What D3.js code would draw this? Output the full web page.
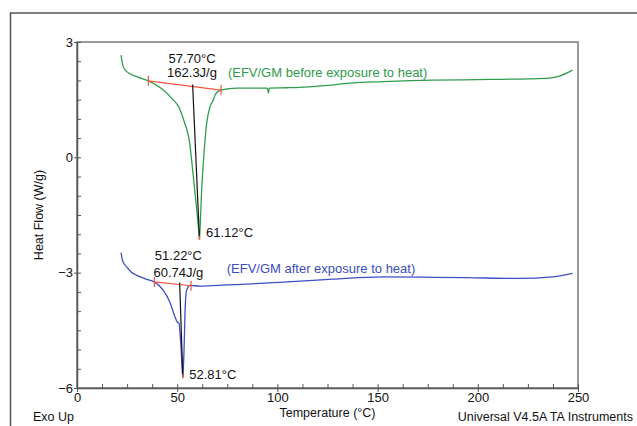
<!DOCTYPE html>
<html>
<head>
<meta charset="utf-8">
<script src="https://cdn.jsdelivr.net/npm/d3@7"></script>
<style>
  body { margin: 0; background: #fff; }
  svg text { font-family: "Liberation Sans", Arial, sans-serif; }
  .axis path, .axis line { stroke: #555; }
  .axis text { font-size: 13px; fill: #111; }
</style>
</head>
<body>
<svg id="chart" width="637" height="426"></svg>
<script>
// data
const tempBefore = [22, 22.6, 23.1, 24.8, 29.8, 35.6, 43.1, 48.1, 50.7, 53.8, 56, 57.9, 59.6, 60.9, 61.12, 61.5, 62.2, 62.7, 63.9, 64.7, 66.4, 68, 68.9, 70, 71.9, 75, 80, 90, 95, 95.5, 96, 105, 111, 125, 136, 152.7, 177.6, 200, 211, 225, 236, 241, 247.3];
const flowBefore = [2.66, 2.45, 2.36, 2.23, 2.10, 1.99, 1.75, 1.49, 1.32, 0.88, 0.45, -0.42, -1.28, -2.0, -2.12, -1.75, -0.85, -0.42, 0.45, 0.88, 1.32, 1.49, 1.62, 1.70, 1.75, 1.78, 1.80, 1.80, 1.80, 1.67, 1.80, 1.81, 1.82, 1.87, 1.93, 1.97, 2.01, 2.02, 2.03, 2.04, 2.06, 2.12, 2.27];

const tempAfter = [22, 22.8, 24.8, 27, 29.8, 34, 38.6, 43.1, 46.3, 48.9, 50, 50.9, 51.9, 52.81, 53.4, 54, 54.7, 56.4, 61.4, 74.7, 91.3, 101.3, 111.3, 127.7, 152.7, 177.6, 194.6, 219.6, 237.5, 247.3];
const flowAfter = [-2.48, -2.70, -2.85, -2.98, -3.07, -3.16, -3.24, -3.46, -3.76, -4.15, -4.28, -4.32, -4.93, -5.72, -5.02, -3.89, -3.46, -3.33, -3.35, -3.32, -3.28, -3.25, -3.22, -3.17, -3.11, -3.12, -3.13, -3.15, -3.11, -3.02];

// integration baselines [t, v] and onset/peak markers
const baseBefore = [[35.6, 1.99], [71.9, 1.75]];
const baseAfter = [[38.6, -3.24], [56.9, -3.34]];
const onsetBefore = 57.70, peakBefore = [61.12, -2.12];
const onsetAfter = 51.22, peakAfter = [52.81, -5.72];

const xTicks = [0, 50, 100, 150, 200, 250];
const yTicks = [3, 0, -3, -6];

const labels = [
  {t: 57.4, v: 2.56, text: "57.70°C", anchor: "middle", color: "#111"},
  {t: 57.4, v: 2.20, text: "162.3J/g", anchor: "middle", color: "#111"},
  {t: 75.3, v: 2.20, text: "(EFV/GM before exposure to heat)", anchor: "start", color: "#2e9a4a"},
  {t: 64.4, v: -1.95, text: "61.12°C", anchor: "start", color: "#111"},
  {t: 50.6, v: -2.56, text: "51.22°C", anchor: "middle", color: "#111"},
  {t: 50.6, v: -2.99, text: "60.74J/g", anchor: "middle", color: "#111"},
  {t: 74.7, v: -2.89, text: "(EFV/GM after exposure to heat)", anchor: "start", color: "#3a4dbd"},
  {t: 56.0, v: -5.66, text: "52.81°C", anchor: "start", color: "#111"}
];

const green = "#2f9e4b", blue = "#3d4fc2", red = "#f2543f";

const svg = d3.select("#chart");
const pad = {left: 77, top: 42, right: 59, bottom: 38};
const W = 637 - pad.left - pad.right, H = 426 - pad.top - pad.bottom;

// outer frame of the instrument printout
svg.append("rect")
  .attr("x", 10.5).attr("y", 13).attr("width", 700).attr("height", 500)
  .attr("fill", "none").attr("stroke", "#555").attr("stroke-width", 1.5);

const g = svg.append("g").attr("transform", `translate(${pad.left},${pad.top})`);

const x = d3.scaleLinear().domain([0, 250]).range([0, W]);
const y = d3.scaleLinear().domain([-6, 3]).range([H, 0]);

// plot box
g.append("rect").attr("width", W).attr("height", H)
  .attr("fill", "none").attr("stroke", "#666").attr("stroke-width", 1.3);

// minor ticks, pointing inside
g.append("g").attr("class", "axis")
  .call(d3.axisLeft(y).tickValues(d3.range(-6, 3.01, 0.5)).tickSize(-4).tickFormat(""))
  .call(a => a.select(".domain").remove());
g.append("g").attr("class", "axis").attr("transform", `translate(0,${H})`)
  .call(d3.axisBottom(x).tickValues(d3.range(0, 250.1, 12.5)).tickSize(-4).tickFormat(""))
  .call(a => a.select(".domain").remove());

// major ticks with labels
g.append("g").attr("class", "axis")
  .call(d3.axisLeft(y).tickValues(yTicks).tickSize(3).tickPadding(1).tickSizeOuter(0))
  .call(a => a.select(".domain").attr("stroke", "#666").attr("stroke-width", 1.5));
g.append("g").attr("class", "axis").attr("transform", `translate(0,${H})`)
  .call(d3.axisBottom(x).tickValues(xTicks).tickSize(4).tickPadding(1).tickSizeOuter(0))
  .call(a => a.select(".domain").attr("stroke", "#333").attr("stroke-width", 1.3));

const line = d3.line().x(d => x(d[0])).y(d => y(d[1])).curve(d3.curveMonotoneX);

g.append("path").datum(d3.zip(tempBefore, flowBefore))
  .attr("d", line).attr("fill", "none").attr("stroke", green).attr("stroke-width", 1.3);
g.append("path").datum(d3.zip(tempAfter, flowAfter))
  .attr("d", line).attr("fill", "none").attr("stroke", blue).attr("stroke-width", 1.3);

// baseline + onset/peak drop lines
function marks(base, onset, peak) {
  g.append("path").datum(base).attr("d", d3.line().x(d => x(d[0])).y(d => y(d[1])))
    .attr("stroke", red).attr("stroke-width", 1.2).attr("fill", "none");
  g.selectAll(null).data(base).enter().append("line")
    .attr("x1", d => x(d[0])).attr("x2", d => x(d[0]))
    .attr("y1", d => y(d[1]) - 5).attr("y2", d => y(d[1]) + 5)
    .attr("stroke", red).attr("stroke-width", 1.2);
  const f = (onset - base[0][0]) / (base[1][0] - base[0][0]);
  const vb = base[0][1] + f * (base[1][1] - base[0][1]);
  g.append("line")
    .attr("x1", x(onset)).attr("y1", y(vb) - 2)
    .attr("x2", x(peak[0])).attr("y2", y(peak[1]))
    .attr("stroke", "#111").attr("stroke-width", 1.2);
  g.append("line")
    .attr("x1", x(peak[0])).attr("y1", y(peak[1]) - 3)
    .attr("x2", x(peak[0])).attr("y2", y(peak[1]) + 1)
    .attr("stroke", red).attr("stroke-width", 1.5);
}
marks(baseBefore, onsetBefore, peakBefore);
marks(baseAfter, onsetAfter, peakAfter);

g.selectAll(".lbl").data(labels).enter().append("text")
  .attr("class", "lbl")
  .attr("x", d => x(d.t)).attr("y", d => y(d.v)).attr("dy", "0.35em")
  .attr("text-anchor", d => d.anchor).attr("fill", d => d.color)
  .attr("font-size", 13).text(d => d.text);

// axis titles and printout notes
g.append("text").attr("transform", `translate(${-34},${H / 2})rotate(-90)`)
  .attr("text-anchor", "middle").attr("font-size", 12.5).attr("fill", "#111")
  .text("Heat Flow (W/g)");
g.append("text").attr("x", W / 2).attr("y", H + 29)
  .attr("text-anchor", "middle").attr("font-size", 12.5).attr("fill", "#111")
  .text("Temperature (°C)");
svg.append("text").attr("x", 33).attr("y", 421)
  .attr("font-size", 12.5).attr("fill", "#111").text("Exo Up");
svg.append("text").attr("x", 633).attr("y", 421).attr("text-anchor", "end")
  .attr("font-size", 12.5).attr("fill", "#111").text("Universal V4.5A TA Instruments");
</script>
</body>
</html>
